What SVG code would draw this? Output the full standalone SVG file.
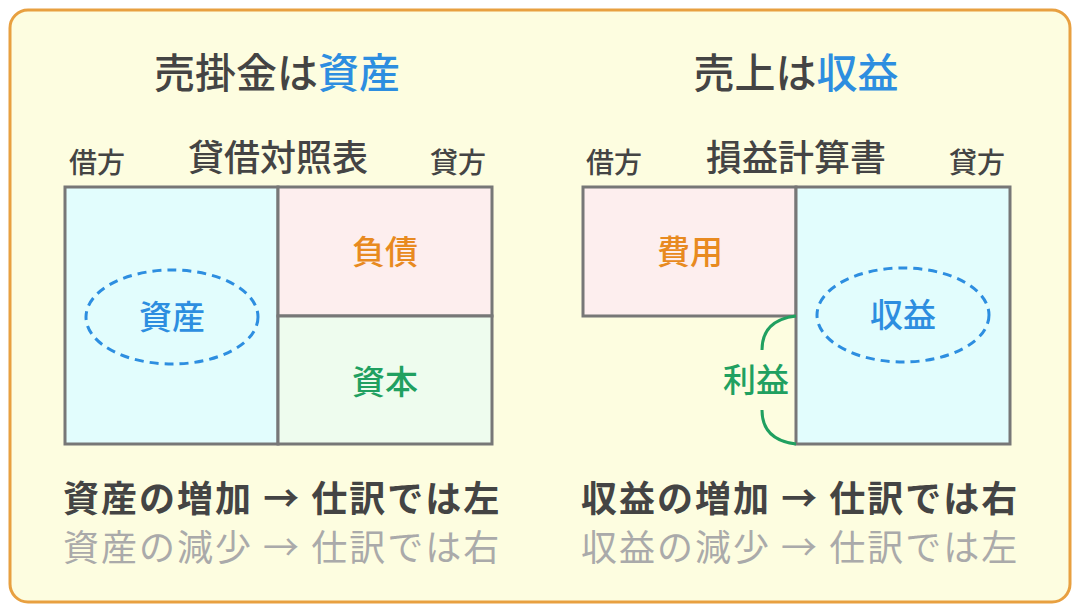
<svg xmlns="http://www.w3.org/2000/svg" width="1080" height="612" viewBox="0 0 1080 612">
<style>
text{font-family:"Noto Sans CJK JP","Noto Sans",sans-serif}
.t{font-size:41px;font-weight:500;fill:#444;text-anchor:middle}
.s{font-size:28px;fill:#444;text-anchor:middle;font-weight:500}
.h{font-size:36px;fill:#444;text-anchor:middle;font-weight:500}
.box{stroke:#777;stroke-width:3}
.in{font-size:33px;font-weight:500;text-anchor:middle}
.b1{font-size:36px;font-weight:bold;fill:#444;letter-spacing:2px}
.b2{font-size:36px;fill:#aaa;letter-spacing:2px}
.el{fill:none;stroke:#2d8ee0;stroke-width:3;stroke-dasharray:9 6}
</style>
<rect x="10" y="10" width="1060" height="592" rx="18" fill="#fdfde0" stroke="#e8a040" stroke-width="3"/>
<g id="left">
<text class="t" x="277" y="88">売掛金は<tspan fill="#2d8ee0">資産</tspan></text>
<text class="s" x="97" y="173">借方</text>
<text class="h" x="278" y="171">貸借対照表</text>
<text class="s" x="458" y="173">貸方</text>
<rect class="box" x="65" y="187" width="213" height="257" fill="#e2fdfd"/>
<rect class="box" x="278" y="187" width="214" height="129" fill="#fdeeee"/>
<rect class="box" x="278" y="316" width="214" height="128" fill="#eefcee"/>
<ellipse class="el" cx="172" cy="317" rx="86" ry="47"/>
<text class="in" x="172" y="329" fill="#2d8ee0">資産</text>
<text class="in" x="385" y="264" fill="#e88a20">負債</text>
<text class="in" x="385" y="394" fill="#20a060">資本</text>
<text class="b1" x="63" y="512">資産の増加 → 仕訳では左</text>
<text class="b2" x="63" y="561">資産の減少 → 仕訳では右</text>
</g>
<g id="right">
<text class="t" x="796" y="88">売上は<tspan fill="#2d8ee0">収益</tspan></text>
<text class="s" x="614" y="173">借方</text>
<text class="h" x="796" y="171">損益計算書</text>
<text class="s" x="977" y="173">貸方</text>
<rect class="box" x="583" y="187" width="213" height="129" fill="#fdeeee"/>
<rect class="box" x="796" y="187" width="214" height="257" fill="#e2fdfd"/>
<ellipse class="el" cx="903" cy="315" rx="86" ry="47"/>
<text class="in" x="903" y="327" fill="#2d8ee0">収益</text>
<text class="in" x="690" y="264" fill="#e88a20">費用</text>
<path d="M796 316 Q762 320 762 350 M762 410 Q762 440 796 444" fill="none" stroke="#20a060" stroke-width="3"/>
<text class="in" x="756" y="392" fill="#20a060">利益</text>
<text class="b1" x="581" y="512">収益の増加 → 仕訳では右</text>
<text class="b2" x="581" y="561">収益の減少 → 仕訳では左</text>
</g>
</svg>
